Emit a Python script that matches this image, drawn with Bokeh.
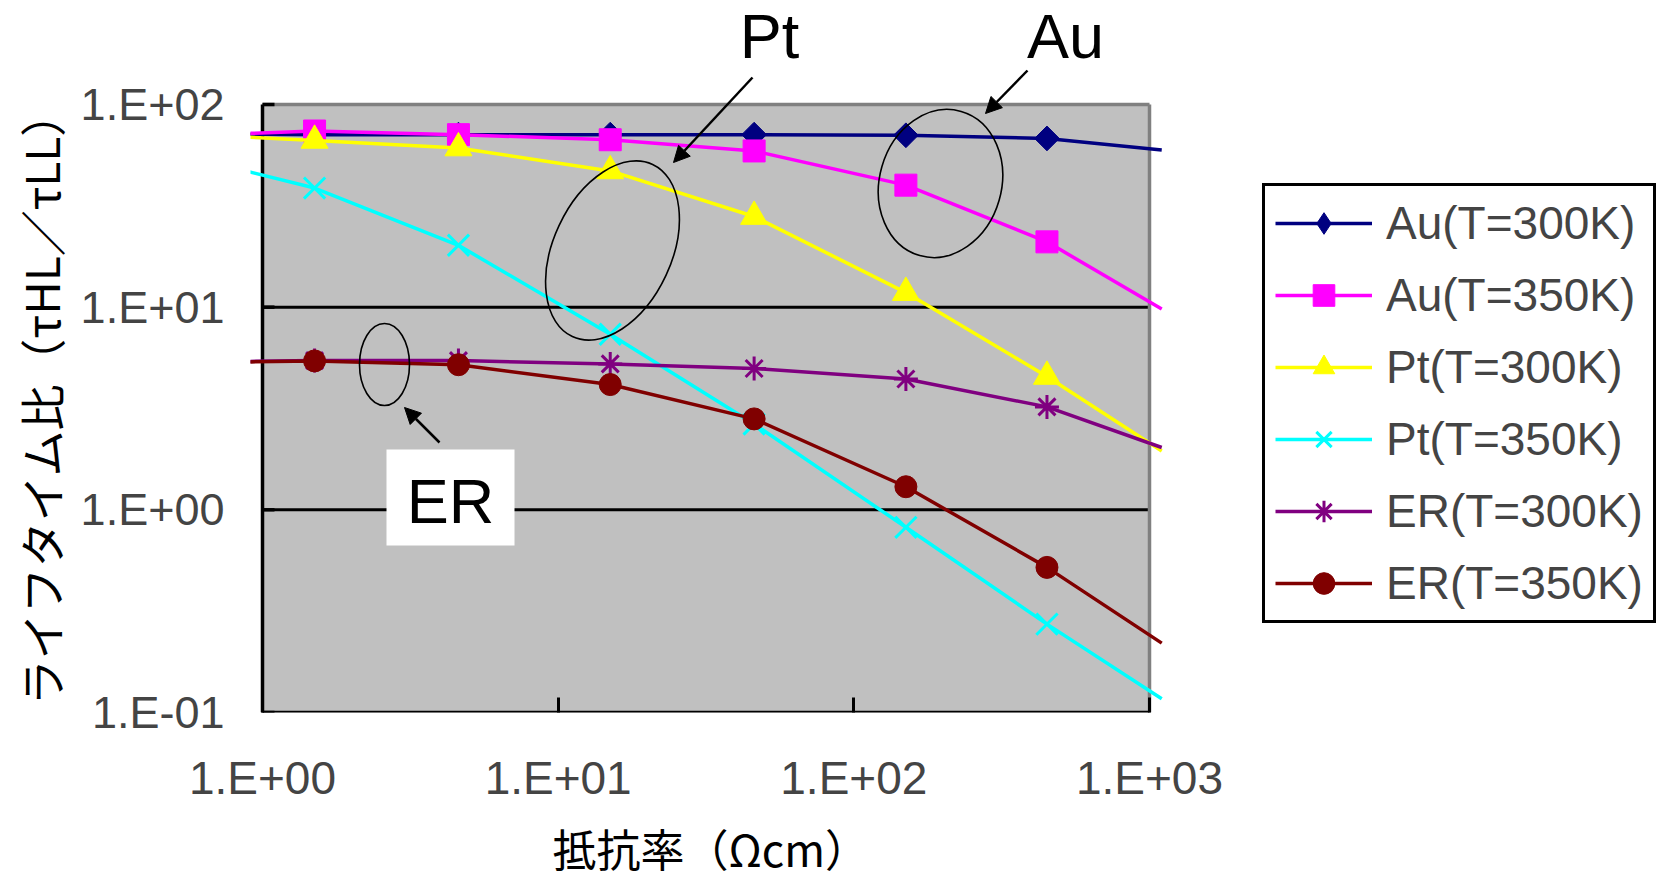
import math
from bokeh.plotting import figure
from bokeh.models import FixedTicker, Legend, LegendItem, Label, Arrow, NormalHead, Title
from bokeh.embed import file_html
from bokeh.resources import INLINE

# ---------------- data ----------------
RESISTIVITY = [1.5, 4.6, 15, 46, 150, 450]      # Ωcm, marker positions
LINE_EDGES = [0.9, 1100]                        # x where the curves leave the chart
AU_300 = [71, 71, 71, 71, 70.5, 68]
AU_350 = [74, 71, 67, 59, 40, 21]
PT_300 = [66.5, 61, 47, 28, 11.8, 4.55]
PT_350 = [38.7, 20.2, 7.35, 2.65, 0.82, 0.273]
ER_300 = [5.45, 5.45, 5.25, 4.98, 4.42, 3.22]
ER_350 = [5.43, 5.2, 4.15, 2.81, 1.30, 0.52]
AU_300_EDGE = [71.3, 59.7]
AU_350_EDGE = [72, 9.8]
PT_300_EDGE = [69, 1.95]
PT_350_EDGE = [46.6, 0.117]
ER_300_EDGE = [5.4, 2.03]
ER_350_EDGE = [5.37, 0.22]
SERIES_LABELS = ["Au(T=300K)", "Au(T=350K)", "Pt(T=300K)",
                 "Pt(T=350K)", "ER(T=300K)", "ER(T=350K)"]
X_TICKS = [1, 10, 100, 1000]
X_TICK_LABELS = ["1.E+00", "1.E+01", "1.E+02", "1.E+03"]
Y_TICKS = [0.1, 1, 10, 100]
Y_TICK_LABELS = ["1.E-01", "1.E+00", "1.E+01", "1.E+02"]
X_TITLE = "抵抗率（Ωcm）"
Y_TITLE = "ライフタイム比（τHL／τLL）"
GROUP_LABELS = ["Pt", "Au", "ER"]

# ---------------- layout helpers ----------------
W, H = 1656, 887
X_DEC = 887 / 3.0          # px per decade (x)
Y_DEC = 608 / 3.0          # px per decade (y)
X1_PX = 262                # page x of x=1
Y100_PX = 104              # page y of y=100
FRAME_L, FRAME_R = 250, W
FRAME_T, FRAME_B = 0, 712


def dx(px):
    return 10 ** ((px - X1_PX) / X_DEC)


def dy(py):
    return 10 ** (2 - (py - Y100_PX) / Y_DEC)


X_MIN, X_MAX = X_TICKS[0], X_TICKS[-1]
Y_MIN, Y_MAX = Y_TICKS[0], Y_TICKS[-1]

NUM_FONT = "Liberation Sans"
JP_FONT = "Noto Sans CJK JP"

p = figure(width=W, height=H, x_axis_type="log", y_axis_type="log",
           x_range=(dx(FRAME_L), dx(FRAME_R)), y_range=(Y_MIN, dy(FRAME_T)),
           output_backend="svg", toolbar_location=None,
           min_border_left=FRAME_L, min_border_right=W - FRAME_R,
           min_border_top=FRAME_T, min_border_bottom=H - FRAME_B)
p.outline_line_color = None
p.grid.visible = False
p.background_fill_color = "white"
p.border_fill_color = "white"

# plot-area box
p.quad(left=[X_MIN], right=[X_MAX], bottom=[Y_MIN], top=[Y_MAX],
       fill_color="#c0c0c0", line_color=None, level="underlay")
# gridlines at 1 and 10
p.segment(x0=[X_MIN] * 2, x1=[X_MAX] * 2, y0=Y_TICKS[1:3], y1=Y_TICKS[1:3],
          line_color="black", line_width=3, level="underlay")
# top / right border (gray)
p.segment(x0=[X_MIN, X_MAX], x1=[X_MAX, X_MAX], y0=[Y_MAX, Y_MIN], y1=[Y_MAX, Y_MAX],
          line_color="#808080", line_width=3.5, level="underlay")
# left / bottom border (black)
p.segment(x0=[X_MIN, X_MIN], x1=[X_MIN, X_MAX], y0=[Y_MIN, Y_MIN], y1=[Y_MAX, Y_MIN],
          line_color="black", line_width=3.5, level="underlay")
# y tick marks (inward)
p.segment(x0=[X_MIN] * 4, x1=[dx(X1_PX + 12)] * 4, y0=Y_TICKS, y1=Y_TICKS,
          line_color="black", line_width=3.5, level="underlay")

# ---------------- series ----------------
# plot markers; legend_marker: a zero-size twin whose glyph is shown in the legend
styles = [
    dict(color="#000080", markers=[dict(marker="square", angle=math.pi / 4, size=17.5)],
         legend_marker="diamond"),
    dict(color="#ff00ff", markers=[dict(marker="square", size=22)], legend_marker=None),
    dict(color="#ffff00", markers=[dict(marker="triangle", size=27)], legend_marker=None),
    dict(color="#00ffff", markers=[dict(marker="x", size=30, line_width=3)], legend_marker=None),
    dict(color="#800080", markers=[dict(marker="asterisk", size=24, line_width=3)], legend_marker=None),
    dict(color="#800000", markers=[dict(marker="circle", size=22)], legend_marker=None),
]
series = [(AU_300, AU_300_EDGE), (AU_350, AU_350_EDGE), (PT_300, PT_300_EDGE),
          (PT_350, PT_350_EDGE), (ER_300, ER_300_EDGE), (ER_350, ER_350_EDGE)]

items = []
for label, (vals, edge), st in zip(SERIES_LABELS, series, styles):
    xs = [LINE_EDGES[0]] + RESISTIVITY + [LINE_EDGES[1]]
    ys = [edge[0]] + vals + [edge[1]]
    line_r = p.line(xs, ys, line_color=st["color"], line_width=3.5)
    marker_rs = []
    for m in st["markers"]:
        kw = dict(m)
        lw = kw.pop("line_width", 1)
        marker_rs.append(p.scatter(RESISTIVITY, vals, fill_color=st["color"],
                                   line_color=st["color"], line_width=lw, **kw))
    if st["legend_marker"]:
        marker_rs = [p.scatter(RESISTIVITY, vals, marker=st["legend_marker"], size=0,
                               fill_color=st["color"], line_color=st["color"])]
    items.append(LegendItem(label=label, renderers=[line_r] + marker_rs))

legend = Legend(items=items, location=(1262 - FRAME_L, FRAME_B - 623),
                label_text_font=NUM_FONT, label_text_font_size="46px",
                glyph_width=97, glyph_height=54, label_standoff=14,
                spacing=18, padding=10, margin=0,
                border_line_color="black", border_line_width=3, border_line_alpha=1,
                background_fill_color="white", background_fill_alpha=1)
p.add_layout(legend)

# ---------------- axes ----------------
xa = p.xaxis[0]
xa.ticker = FixedTicker(ticks=X_TICKS)
xa.major_label_overrides = dict(zip(X_TICKS, X_TICK_LABELS))
xa.axis_line_color = None
xa.major_tick_in = 15
xa.major_tick_out = 0
xa.major_tick_line_width = 3
xa.minor_tick_line_color = None
xa.major_label_text_font = NUM_FONT
xa.major_label_text_font_size = "46px"
xa.major_label_standoff = 39

ya = p.yaxis[0]
ya.ticker = FixedTicker(ticks=Y_TICKS)
ya.major_label_overrides = dict(zip(Y_TICKS, Y_TICK_LABELS))
ya.axis_line_color = None
ya.major_tick_line_color = None
ya.major_tick_in = 0
ya.major_tick_out = 0
ya.minor_tick_line_color = None
ya.major_label_text_font = NUM_FONT
ya.major_label_text_font_size = "45px"
ya.major_label_standoff = 26

# axis titles as side titles (they are offset along the axis like the reference)
p.add_layout(Title(text=X_TITLE, align="left", offset=552 - FRAME_L,
                   text_font=JP_FONT, text_font_size="44px", text_font_style="normal",
                   text_color="black", standoff=14), "below")
p.add_layout(Title(text=Y_TITLE, align="left", offset=FRAME_B - 705,
                   text_font=JP_FONT, text_font_size="46px", text_font_style="normal",
                   text_color="black", standoff=9), "left")

# ---------------- annotations ----------------
# ellipses marking the groups
p.ellipse(x=[dx(612), dx(940), dx(384)], y=[dy(250), dy(183), dy(364)],
          width=[190, 150, 50], height=[118, 122, 82],
          angle=[math.radians(65), math.radians(74), 0],
          width_units="screen", height_units="screen",
          fill_color=None, line_color="black", line_width=1.6)

# arrows
for (x0, y0, x1, y1) in [(752, 77, 673, 162), (1027, 70, 985, 113), (439, 442, 404, 407)]:
    p.add_layout(Arrow(end=NormalHead(size=16, fill_color="black", line_color="black", line_width=1),
                       x_start=dx(x0), y_start=dy(y0), x_end=dx(x1), y_end=dy(y1),
                       line_color="black", line_width=2.5))

# white box behind "ER"
p.rect(x=[dx(450)], y=[dy(497)], width=[128], height=[96],
       width_units="screen", height_units="screen",
       fill_color="white", line_color=None)

for txt, px, py in zip(GROUP_LABELS, [769, 1065, 450], [35, 35, 500]):
    p.add_layout(Label(x=dx(px), y=dy(py), text=txt, text_align="center",
                       text_baseline="middle", text_font=NUM_FONT,
                       text_font_size="63px", text_color="black"))

open("out.html", "w").write(file_html(p, INLINE))
